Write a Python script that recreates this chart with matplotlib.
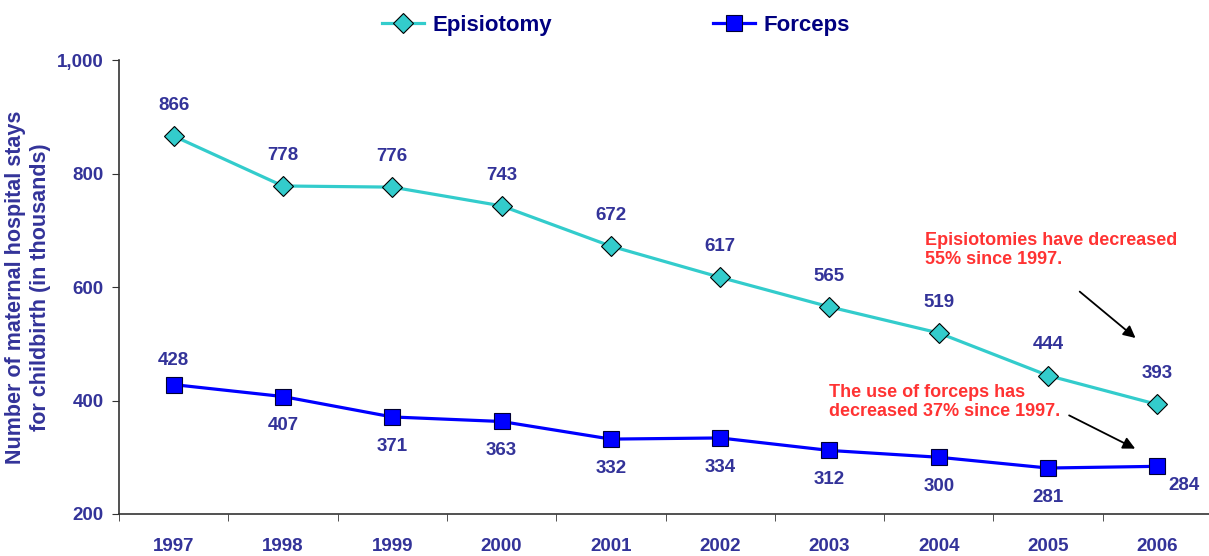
import matplotlib.pyplot as plt
import numpy as np

plt.rcParams["font.family"] = ["Liberation Sans", "DejaVu Sans"]
plt.rcParams["font.weight"] = "bold"

# --- data --------------------------------------------------------------------
YEARS = ["1997", "1998", "1999", "2000", "2001", "2002", "2003", "2004", "2005", "2006"]
EPISIOTOMY = [866, 778, 776, 743, 672, 617, 565, 519, 444, 393]
FORCEPS = [428, 407, 371, 363, 332, 334, 312, 300, 281, 284]

TXT = "#333399"
RED = "#FF3333"
TEAL = "#33CCCC"
BLUE = "#0000FF"

fig = plt.figure(figsize=(12.09, 5.56), dpi=100)
ax = fig.add_axes([119 / 1209, 42 / 556, 1093 / 1209, 454 / 556])

x = np.arange(len(YEARS))
ep, = ax.plot(x, EPISIOTOMY, color=TEAL, linewidth=2.3, marker="D", markersize=10,
              markerfacecolor=TEAL, markeredgecolor="black", markeredgewidth=0.8,
              label="Episiotomy", clip_on=False)
fo, = ax.plot(x, FORCEPS, color=BLUE, linewidth=2.3, marker="s", markersize=11,
              markerfacecolor=BLUE, markeredgecolor="#000033", markeredgewidth=0.8,
              label="Forceps", clip_on=False)

# value labels
for i, v in enumerate(EPISIOTOMY):
    ax.annotate(f"{v}", (i, v), xytext=(0, 22), textcoords="offset points",
                ha="center", va="center", color=TXT, fontsize=13.5, fontweight="bold")
for i, v in enumerate(FORCEPS):
    if i == 0:
        off = (0, 17)
    elif i == len(FORCEPS) - 1:
        off = (19, -14)
    else:
        off = (0, -21)
    ax.annotate(f"{v}", (i, v), xytext=off, textcoords="offset points",
                ha="center", va="center", color=TXT, fontsize=13.5, fontweight="bold")

# callouts
ax.text(6.87, 697, "Episiotomies have decreased\n55% since 1997.", color=RED,
        fontsize=13, fontweight="bold", ha="left", va="top", linespacing=1.15)
ax.annotate("", xy=(8.82, 507), xytext=(8.27, 595),
            arrowprops=dict(arrowstyle="-|>", color="black", lw=1.3, mutation_scale=18))
ax.text(6.0, 429, "The use of forceps has\ndecreased 37% since 1997.", color=RED,
        fontsize=13, fontweight="bold", ha="left", va="top", linespacing=1.15)
ax.annotate("", xy=(8.82, 313), xytext=(8.17, 376),
            arrowprops=dict(arrowstyle="-|>", color="black", lw=1.3, mutation_scale=18))

# axes
ax.set_xlim(-0.5, len(YEARS) - 0.5)
ax.set_ylim(200, 1000)
ax.set_yticks([200, 400, 600, 800, 1000])
ax.set_yticklabels(["200", "400", "600", "800", "1,000"])
ax.set_xticks(x)
ax.set_xticklabels(YEARS)
ax.set_xticks(np.arange(-0.5, len(YEARS)), minor=True)
ax.tick_params(axis="x", which="major", length=0, pad=17, labelsize=13.5, labelcolor=TXT)
ax.tick_params(axis="x", which="minor", length=5, direction="out", color="#333333")
ax.tick_params(axis="y", length=5, direction="out", pad=6, labelsize=13.5,
               labelcolor=TXT, color="#333333")
for lab in ax.get_xticklabels() + ax.get_yticklabels():
    lab.set_fontweight("bold")

ax.spines["top"].set_visible(False)
ax.spines["right"].set_visible(False)
ax.spines["left"].set_color("#333333")
ax.spines["bottom"].set_color("#333333")
ax.spines["left"].set_linewidth(1.2)
ax.spines["bottom"].set_linewidth(1.2)

ax.set_ylabel("Number of maternal hospital stays\nfor childbirth (in thousands)",
              color=TXT, fontsize=15.5, fontweight="bold", labelpad=4, linespacing=1.3)

leg = fig.legend(handles=[ep, fo], loc="center", bbox_to_anchor=(616 / 1209, 1 - 25 / 556),
                 ncol=2, frameon=False, fontsize=16, handlelength=1.9,
                 columnspacing=7.2, handletextpad=0.4)
for t in leg.get_texts():
    t.set_color("#000080")
    t.set_fontweight("bold")

fig.savefig("out.png", dpi=100)
